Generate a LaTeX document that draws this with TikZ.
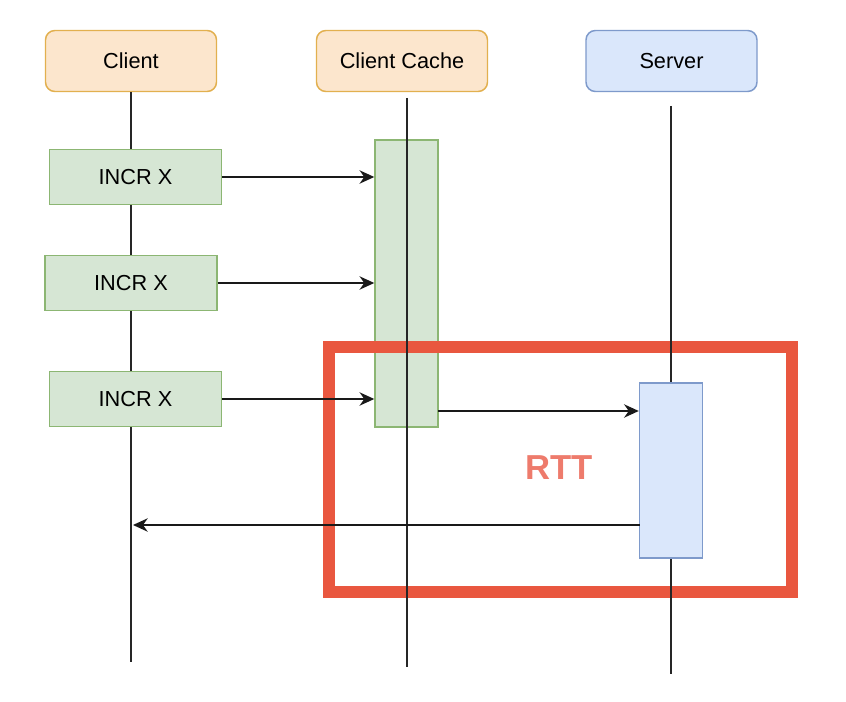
\documentclass[tikz,border=0pt]{standalone}
\usepackage{fontspec}
\setmainfont{Liberation Sans}
\usetikzlibrary{arrows.meta}
\definecolor{orfill}{HTML}{FCE6CD}
\definecolor{ordraw}{HTML}{E2B04F}
\definecolor{grfill}{HTML}{D6E6D4}
\definecolor{grdraw}{HTML}{8CB673}
\definecolor{blfill}{HTML}{DAE7FB}
\definecolor{bldraw}{HTML}{7E9ACB}
\definecolor{rttred}{HTML}{E9573F}
\definecolor{rtttext}{HTML}{EE7B6C}
\tikzset{
  actor/.style={draw=ordraw, fill=orfill, line width=1.1pt, rounded corners=7pt, minimum width=171*0.75pt, minimum height=61*0.75pt, font=\fontsize{16.3}{19}\selectfont, inner sep=0pt},
  incrbox/.style={draw=grdraw, fill=grfill, line width=1.1pt, minimum width=172*0.75pt, minimum height=55*0.75pt, font=\fontsize{16.3}{19}\selectfont, inner sep=0pt},
  lifeline/.style={draw=black!85, line width=1.2pt},
  msg/.style={draw=black!90, line width=1.25pt, -{Stealth[length=11pt,width=10pt,inset=3.5pt]}},
}
\begin{document}
\begin{tikzpicture}[x=0.75pt,y=-0.75pt]
\useasboundingbox[fill=white] (0,0) rectangle (846,702);
% actors
\node[actor] (client) at (131,61) {Client};
\node[actor] (cache) at (402,61) {Client Cache};
\node[actor, draw=bldraw, fill=blfill] (server) at (671.5,61) {Server};
% cache activation
\node[draw=grdraw, fill=grfill, line width=1.1pt, inner sep=0pt, minimum width=63*0.75pt, minimum height=287*0.75pt] (cacheact) at (406.5,283.5) {};
% RTT frame
\draw[rttred, line width=9pt] (329,347) rectangle (792,592);
\node[text=rtttext, font=\bfseries\fontsize{26}{30}\selectfont] (rtt) at (559,468) {RTT};
% lifelines
\coordinate (clientEnd) at (131,662);
\coordinate (cacheStart) at (407,98);
\coordinate (cacheEnd) at (407,667);
\coordinate (serverStart) at (671,106);
\coordinate (serverEnd) at (671,674);
\draw[lifeline] (client.south) -- (clientEnd);
\draw[lifeline] (cacheStart) -- (cacheEnd);
\draw[lifeline] (serverStart) -- (serverEnd);
% server activation
\node[draw=bldraw, fill=blfill, line width=1.1pt, minimum width=63*0.75pt, minimum height=175*0.75pt, inner sep=0pt] (srvact) at (671,470.5) {};
% INCR boxes
\node[incrbox] (incr1) at (135.5,177) {INCR X};
\node[incrbox] (incr2) at (131,283) {INCR X};
\node[incrbox] (incr3) at (135.5,399) {INCR X};
% messages
\draw[msg] (incr1.east) -- (incr1.east -| cacheact.west);
\draw[msg] (incr2.east) -- (incr2.east -| cacheact.west);
\draw[msg] (incr3.east) -- (incr3.east -| cacheact.west);
\coordinate (fwd) at (438,411);
\draw[msg] (fwd) -- (fwd -| srvact.west);
\coordinate (ret) at (639.5,525);
\coordinate (retEnd) at (133,525);
\draw[msg] (ret) -- (retEnd);
\end{tikzpicture}
\end{document}
